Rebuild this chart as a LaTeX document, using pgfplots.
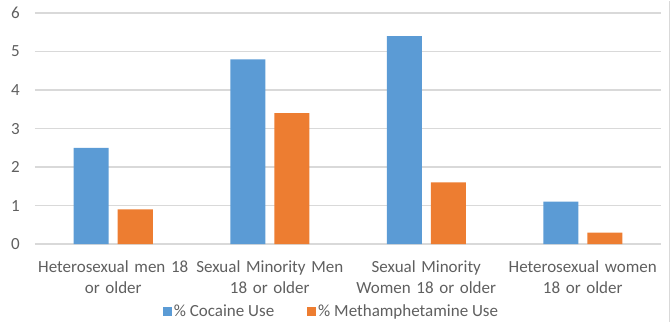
\documentclass[border=0pt]{standalone}
\usepackage{pgfplots}
\pgfplotsset{compat=1.18}
\usepackage{fontspec}
\setmainfont{Carlito}
\definecolor{cocaine}{HTML}{5B9BD5}
\definecolor{meth}{HTML}{ED7D31}
\definecolor{gridgray}{HTML}{D9D9D9}
\definecolor{labelgray}{HTML}{5F5F5F}
\begin{document}
\begin{tikzpicture}
\begin{axis}[
  at={(0,0)}, anchor=south west,
  scale only axis,
  width=626bp, height=231bp,
  xmin=-0.5, xmax=3.5, ymin=0, ymax=6,
  ybar=9bp, bar width=35bp,
  axis line style={draw=none},
  major tick length=0pt,
  ytick={0,1,2,3,4,5,6},
  ymajorgrids,
  grid style={gridgray, line width=1.2bp},
  xtick={0,1,2,3},
  xticklabels={{Heterosexual men 18\\or older},{Sexual Minority Men\\18 or older},{Sexual Minority\\Women 18 or older},{Heterosexual women\\18 or older}},
  /pgf/number format/assume math mode=true,
  tick label style={font=\fontsize{17bp}{21bp}\selectfont, text=labelgray},
  xticklabel style={align=center, text width=160bp, inner sep=0pt, yshift=-16bp},
  yticklabel style={inner sep=0pt, xshift=-15bp},
  legend style={at={(0.4736,-0.29)}, anchor=center, draw=none, fill=none,
    font=\fontsize{17bp}{21bp}\selectfont, text=labelgray,
    legend columns=-1, /tikz/every even column/.append style={column sep=31bp},
    inner sep=0pt},
  legend image code/.code={\fill[#1,draw=none] (0bp,-4.5bp) rectangle (9bp,4.5bp);},
]
\addplot[fill=cocaine, draw=none] coordinates {(0,2.5) (1,4.8) (2,5.4) (3,1.1)};
\addplot[fill=meth, draw=none] coordinates {(0,0.9) (1,3.4) (2,1.6) (3,0.3)};
\legend{\% Cocaine Use, \% Methamphetamine Use}
\end{axis}
% chart frame edge on the right
\draw[gridgray, line width=1.5bp] (634.5bp,-77.7bp) -- (634.5bp,243.3bp);
\path[use as bounding box] (-35bp,-77.7bp) rectangle (636bp,243.3bp);
\end{tikzpicture}
\end{document}
